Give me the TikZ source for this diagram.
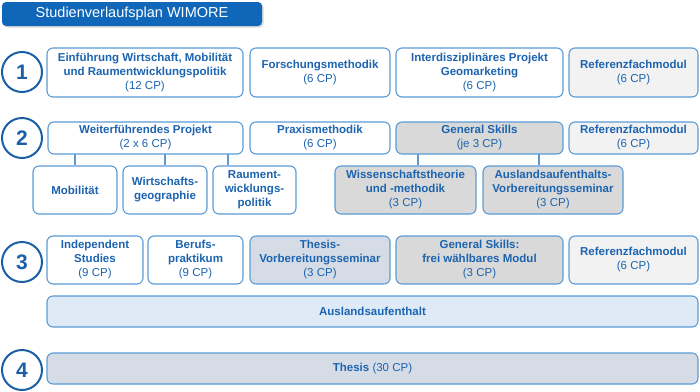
\documentclass[tikz,border=0pt]{standalone}
\usepackage{fontspec}
\setmainfont{Liberation Sans}
\usetikzlibrary{shadows}
\definecolor{tblue}{RGB}{28,100,176}
\definecolor{bord}{RGB}{91,155,213}
\definecolor{titlef}{RGB}{16,102,184}
\definecolor{circb}{RGB}{26,95,168}
\definecolor{lgrey}{RGB}{242,242,242}
\definecolor{mgrey}{RGB}{217,217,217}
\definecolor{bgrey}{RGB}{214,220,230}
\definecolor{lblue}{RGB}{222,235,247}
\newcommand\modbox[7]{%
  \node[modul, fill=#6, minimum width={(#4-#2)*1pt}, minimum height={(#5-#3)*1pt}]
    (#1) at ({(#2+#4)/2},{(#3+#5)/2}) {#7};}
\begin{document}
\begin{tikzpicture}[x=1pt,y=-1pt,
  modul/.style={draw=bord, line width=1.1pt, rounded corners=6pt, inner sep=0pt,
    align=center, text=tblue, font=\fontsize{11.5}{14}\selectfont},
  semnum/.style={circle, draw=circb, line width=2pt, minimum size=40pt, fill=white,
    inner sep=0pt, text=circb, font=\bfseries\fontsize{21}{21}\selectfont},
  conn/.style={draw=bord, line width=1.1pt}]
\useasboundingbox (0,0) rectangle (700,391);
% title
\node[fill=titlef, rounded corners=4pt, minimum width=260pt, minimum height=24pt,
  inner sep=0pt, text=white, font=\fontsize{14.5}{16}\selectfont,
  drop shadow={shadow xshift=1.5pt, shadow yshift=-1.5pt, opacity=0.3}]
  (title) at (132,14) {Studienverlaufsplan WIMORE};
% semester circles
\node[semnum] (c1) at (22,72) {1};
\node[semnum] (c2) at (22,138) {2};
\node[semnum] (c3) at (22,262) {3};
\node[semnum] (c4) at (22,370) {4};
% row 1
\modbox{a1}{47}{48}{243}{97}{white}{\textbf{Einführung Wirtschaft, Mobilität}\\\textbf{und Raumentwicklungspolitik}\\(12 CP)}
\modbox{a2}{250}{48}{390}{97}{white}{\textbf{Forschungsmethodik}\\(6 CP)}
\modbox{a3}{396}{48}{563}{97}{white}{\textbf{Interdisziplinäres Projekt}\\\textbf{Geomarketing}\\(6 CP)}
\modbox{a4}{569}{48}{698}{97}{lgrey}{\textbf{Referenzfachmodul}\\(6 CP)}
% row 2
\modbox{wp}{48}{122}{243}{154}{white}{\textbf{Weiterführendes Projekt}\\(2 x 6 CP)}
\modbox{pm}{250}{122}{390}{154}{white}{\textbf{Praxismethodik}\\(6 CP)}
\modbox{gs}{396}{122}{563}{154}{mgrey}{\textbf{General Skills}\\(je 3 CP)}
\modbox{b4}{569}{122}{698}{154}{lgrey}{\textbf{Referenzfachmodul}\\(6 CP)}
\modbox{mo}{33}{166}{117}{214}{white}{\textbf{Mobilität}}
\modbox{wg}{123}{166}{207}{214}{white}{\textbf{Wirtschafts-}\\\textbf{geographie}}
\modbox{rw}{213}{166}{296}{214}{white}{\textbf{Raument-}\\\textbf{wicklungs-}\\\textbf{politik}}
\modbox{wt}{335}{166}{476}{214}{mgrey}{\textbf{Wissenschaftstheorie}\\\textbf{und -methodik}\\(3 CP)}
\modbox{av}{483}{166}{623}{214}{mgrey}{\textbf{Auslandsaufenthalts-}\\\textbf{Vorbereitungsseminar}\\(3 CP)}
\coordinate (k1) at (75,154);
\coordinate (k2) at (165,154);
\coordinate (k3) at (228,154);
\coordinate (k4) at (418,154);
\coordinate (k5) at (539,154);
\draw[conn] (k1) -- (k1 |- mo.north);
\draw[conn] (k2) -- (k2 |- wg.north);
\draw[conn] (k3) -- (k3 |- rw.north);
\draw[conn] (k4) -- (k4 |- wt.north);
\draw[conn] (k5) -- (k5 |- av.north);
% row 3
\modbox{d1}{47}{236}{143}{284}{white}{\textbf{Independent}\\\textbf{Studies}\\(9 CP)}
\modbox{d2}{148}{236}{243}{284}{white}{\textbf{Berufs-}\\\textbf{praktikum}\\(9 CP)}
\modbox{d3}{250}{236}{390}{284}{bgrey}{\textbf{Thesis-}\\\textbf{Vorbereitungsseminar}\\(3 CP)}
\modbox{d4}{396}{236}{563}{284}{mgrey}{\textbf{General Skills:}\\\textbf{frei wählbares Modul}\\(3 CP)}
\modbox{d5}{569}{236}{698}{284}{lgrey}{\textbf{Referenzfachmodul}\\(6 CP)}
\modbox{aa}{47}{296}{698}{327}{lblue}{\textbf{Auslandsaufenthalt}}
% row 4
\modbox{th}{47}{353}{698}{384}{bgrey}{\textbf{Thesis} (30 CP)}
\end{tikzpicture}
\end{document}
